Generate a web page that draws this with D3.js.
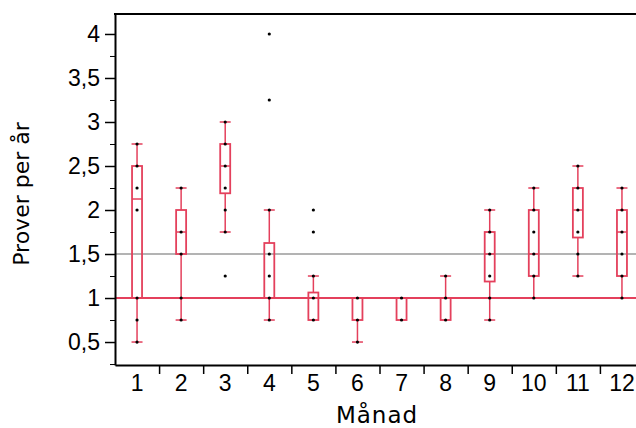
<!DOCTYPE html>
<html>
<head>
<meta charset="utf-8">
<script src="https://cdn.jsdelivr.net/npm/d3@7"></script>
<style>
  body { margin: 0; background: #fff; }
  svg { display: block; font-family: "DejaVu Sans", sans-serif; }
</style>
</head>
<body>
<svg id="chart" width="636" height="428"></svg>
<script>
// box plot per month (Månad)
const months = [1, 2, 3, 4, 5, 6, 7, 8, 9, 10, 11, 12];
const whiskerLow  = [0.5, 0.75, 1.75, 0.75, 0.75, 0.5, 0.75, 0.75, 0.75, 1.0, 1.25, 1.0];
const quart1      = [1.0, 1.5, 2.19, 1.0, 0.75, 0.75, 0.75, 0.75, 1.1875, 1.25, 1.6875, 1.25];
const medians     = [2.125, 1.75, 2.5, 1.0, 1.0, 1.0, 1.0, 1.0, 1.5, 1.5, 2.0, 1.75];
const quart3      = [2.5, 2.0, 2.75, 1.625, 1.0625, 1.0, 1.0, 1.0, 1.75, 2.0, 2.25, 2.0];
const whiskerHigh = [2.75, 2.25, 3.0, 2.0, 1.25, 1.0, 1.0, 1.25, 2.0, 2.25, 2.5, 2.25];
const points = [
    [2.75, 2.5, 2.25, 2.0, 1.0, 0.75, 0.5],
    [2.25, 1.75, 1.5, 1.0, 0.75],
    [3.0, 2.75, 2.5, 2.25, 2.0, 1.75, 1.25],
    [4.0, 3.25, 2.0, 1.5, 1.25, 1.0, 0.75],
    [2.0, 1.75, 1.25, 1.0, 0.75],
    [1.0, 0.75, 0.5],
    [1.0, 0.75],
    [1.25, 1.0, 0.75],
    [2.0, 1.75, 1.5, 1.25, 1.0, 0.75],
    [2.25, 2.0, 1.75, 1.5, 1.25, 1.0],
    [2.5, 2.25, 2.0, 1.75, 1.5, 1.25],
    [2.25, 2.0, 1.75, 1.5, 1.25, 1.0]
];
const refRed = 1.0;
const refGray = 1.5;
const yMajorTicks = [0.5, 1, 1.5, 2, 2.5, 3, 3.5, 4];
const yMinorTicks = [0.25, 0.75, 1.25, 1.75, 2.25, 2.75, 3.25, 3.75];

const margin = {top: 14, left: 115, bottom: 365, right: 644};
const red = "#e4405c";
const boxWidth = 10;
const capWidth = 11;

const svg = d3.select("#chart");

const x = d3.scaleBand().domain(months).range([margin.left, margin.right]);
const y = d3.scaleLinear().domain([0.239, 4.227]).range([margin.bottom, margin.top]);
const cx = m => x(m) + x.bandwidth() / 2;
const fmt = d => String(d).replace(".", ",");

// reference lines
svg.append("line")
    .attr("x1", margin.left).attr("x2", margin.right)
    .attr("y1", y(refGray)).attr("y2", y(refGray))
    .attr("stroke", "#9a9a9a").attr("stroke-width", 1.5);

svg.append("line")
    .attr("x1", margin.left).attr("x2", margin.right)
    .attr("y1", y(refRed)).attr("y2", y(refRed))
    .attr("stroke", red).attr("stroke-width", 2);

const boxes = svg.append("g")
    .selectAll("g")
    .data(months)
    .join("g");

// whiskers
boxes.append("line")
    .attr("x1", cx).attr("x2", cx)
    .attr("y1", (d, i) => y(whiskerHigh[i]))
    .attr("y2", (d, i) => y(quart3[i]))
    .attr("stroke", red).attr("stroke-width", 1.5);
boxes.append("line")
    .attr("x1", cx).attr("x2", cx)
    .attr("y1", (d, i) => y(quart1[i]))
    .attr("y2", (d, i) => y(whiskerLow[i]))
    .attr("stroke", red).attr("stroke-width", 1.5);

// caps, only where the whisker leaves the box
boxes.filter((d, i) => whiskerHigh[i] > quart3[i])
    .append("line")
    .attr("x1", d => cx(d) - capWidth / 2).attr("x2", d => cx(d) + capWidth / 2)
    .attr("y1", d => y(whiskerHigh[months.indexOf(d)]))
    .attr("y2", d => y(whiskerHigh[months.indexOf(d)]))
    .attr("stroke", red).attr("stroke-width", 1.5);
boxes.filter((d, i) => whiskerLow[i] < quart1[i])
    .append("line")
    .attr("x1", d => cx(d) - capWidth / 2).attr("x2", d => cx(d) + capWidth / 2)
    .attr("y1", d => y(whiskerLow[months.indexOf(d)]))
    .attr("y2", d => y(whiskerLow[months.indexOf(d)]))
    .attr("stroke", red).attr("stroke-width", 1.5);

// box
boxes.append("rect")
    .attr("x", d => cx(d) - boxWidth / 2)
    .attr("y", (d, i) => y(quart3[i]))
    .attr("width", boxWidth)
    .attr("height", (d, i) => y(quart1[i]) - y(quart3[i]))
    .attr("fill", "none")
    .attr("stroke", red).attr("stroke-width", 1.8);

// median
boxes.append("line")
    .attr("x1", d => cx(d) - boxWidth / 2).attr("x2", d => cx(d) + boxWidth / 2)
    .attr("y1", (d, i) => y(medians[i])).attr("y2", (d, i) => y(medians[i]))
    .attr("stroke", red).attr("stroke-width", 1.5);

// data points
const dots = [];
months.forEach((m, i) => points[i].forEach(v => dots.push({m, v})));
svg.append("g")
    .selectAll("circle")
    .data(dots)
    .join("circle")
    .attr("cx", d => cx(d.m))
    .attr("cy", d => y(d.v))
    .attr("r", 1.6)
    .attr("fill", "#000");

// axes
const yAxis = svg.append("g")
    .attr("transform", `translate(${margin.left},0)`)
    .call(d3.axisLeft(y).tickValues(yMajorTicks).tickFormat(fmt).tickSize(10).tickPadding(5).tickSizeOuter(0));
svg.append("g")
    .attr("transform", `translate(${margin.left},0)`)
    .call(d3.axisLeft(y).tickValues(yMinorTicks).tickFormat("").tickSize(5).tickSizeOuter(0))
    .select(".domain").remove();
yAxis.selectAll("text").style("font-size", "23px").attr("fill", "#000");
yAxis.selectAll("line").attr("stroke-width", 1.5);
yAxis.select(".domain").attr("stroke-width", 2);

const edges = d3.scaleLinear().domain([0.5, 12.5]).range([margin.left, margin.right]);
const xTicks = svg.append("g")
    .attr("transform", `translate(0,${margin.bottom})`)
    .call(d3.axisBottom(edges).tickValues(d3.range(1.5, 12.5, 1)).tickFormat("").tickSize(9).tickSizeOuter(0));
xTicks.select(".domain").attr("stroke-width", 2);
xTicks.selectAll("line").attr("stroke-width", 1.5);

const xLabels = svg.append("g")
    .attr("transform", `translate(0,${margin.bottom})`)
    .call(d3.axisBottom(x).tickSize(0).tickPadding(10));
xLabels.select(".domain").remove();
xLabels.selectAll("text").style("font-size", "23px").attr("fill", "#000");

// top frame
svg.append("line")
    .attr("x1", margin.left - 1).attr("x2", margin.right)
    .attr("y1", margin.top).attr("y2", margin.top)
    .attr("stroke", "#000").attr("stroke-width", 2);

// titles
svg.append("text")
    .attr("x", 377).attr("y", 423)
    .attr("text-anchor", "middle")
    .style("font-size", "23px")
    .style("letter-spacing", "1px")
    .text("Månad");

svg.append("text")
    .attr("transform", "translate(29,194) rotate(-90)")
    .attr("text-anchor", "middle")
    .style("font-size", "22px")
    .text("Prover per år");
</script>
</body>
</html>
